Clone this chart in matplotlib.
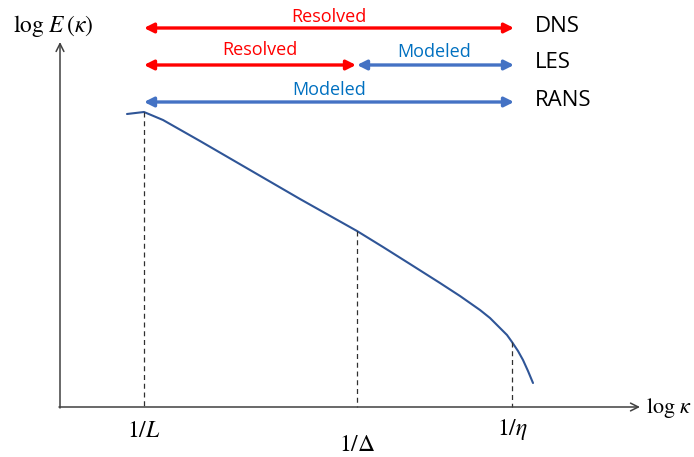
import matplotlib.pyplot as plt
import numpy as np

# energy spectrum sketch, units are the canvas grid (y grows downward)
curve_k = [127, 144, 163, 200, 250, 300, 357, 383, 410, 440, 460, 480, 490, 500, 507, 512, 518, 523, 528, 533]
curve_E = [114, 112, 120, 141, 170, 199, 231, 247, 264, 283, 296, 310, 318, 328, 335, 342, 351, 360, 371, 383]

cut_k = [144, 357, 512]          # 1/L, 1/Delta, 1/eta
cut_labels = [r'$1/L$', r'$1/\Delta$', r'$1/\eta$']
cut_label_y = [430, 444, 429]

origin = (60, 407)
x_end, y_end = 640, 42

red = '#FF0000'
blue = '#4472C4'
text_blue = '#0070C0'
curve_col = '#2F5597'

plt.rcParams['mathtext.fontset'] = 'stix'

fig = plt.figure(figsize=(6.94, 4.57), dpi=100)
ax = fig.add_axes([0, 0, 1, 1])
ax.set_xlim(0, 694)
ax.set_ylim(457, 0)
ax.axis('off')

# axes with open arrow heads
ax.annotate('', xy=(x_end, origin[1]), xytext=(origin[0] - 1, origin[1]),
            arrowprops=dict(arrowstyle='->', color='#404040', lw=1.1, mutation_scale=14,
                            shrinkA=0, shrinkB=0))
ax.annotate('', xy=(origin[0], y_end), xytext=(origin[0], origin[1] + 1),
            arrowprops=dict(arrowstyle='->', color='#404040', lw=1.1, mutation_scale=14,
                            shrinkA=0, shrinkB=0))
ax.text(13, 26, r'$\log\,E\,(\kappa)$', fontsize=17, va='center', ha='left')
ax.text(646, 408, r'$\log\,\kappa$', fontsize=16, va='center', ha='left')

# spectrum
ax.plot(curve_k, curve_E, color=curve_col, lw=1.5, solid_capstyle='round',
        solid_joinstyle='round')

# dashed cutoffs down to the axis
for k, lab, ly in zip(cut_k, cut_labels, cut_label_y):
    top = np.interp(k, curve_k, curve_E)
    ax.plot([k, k], [top, origin[1]], color='#303030', lw=0.9, ls=(0, (4, 3)))
    ax.text(k, ly, lab, fontsize=17, ha='center', va='center')

def range_arrow(x0, x1, y, col):
    ax.annotate('', xy=(x1, y), xytext=(x0, y),
                arrowprops=dict(arrowstyle='<|-|>', color=col, lw=2.4, mutation_scale=14,
                                shrinkA=0, shrinkB=0))

# DNS
range_arrow(144, 514, 28, red)
ax.text(329, 17, 'Resolved', color=red, fontsize=13, ha='center', va='center', family='Open Sans')
# LES
range_arrow(144, 356, 65, red)
range_arrow(357, 514, 65, blue)
ax.text(260, 50, 'Resolved', color=red, fontsize=13, ha='center', va='center', family='Open Sans')
ax.text(434, 52, 'Modeled', color=text_blue, fontsize=13, ha='center', va='center', family='Open Sans')
# RANS
range_arrow(144, 514, 102, blue)
ax.text(329, 90, 'Modeled', color=text_blue, fontsize=13, ha='center', va='center', family='Open Sans')

for name, y in zip(['DNS', 'LES', 'RANS'], [27, 63, 100]):
    ax.text(535, y, name, fontsize=16, ha='left', va='center', family='Open Sans')

plt.savefig('out.png', dpi=100)
